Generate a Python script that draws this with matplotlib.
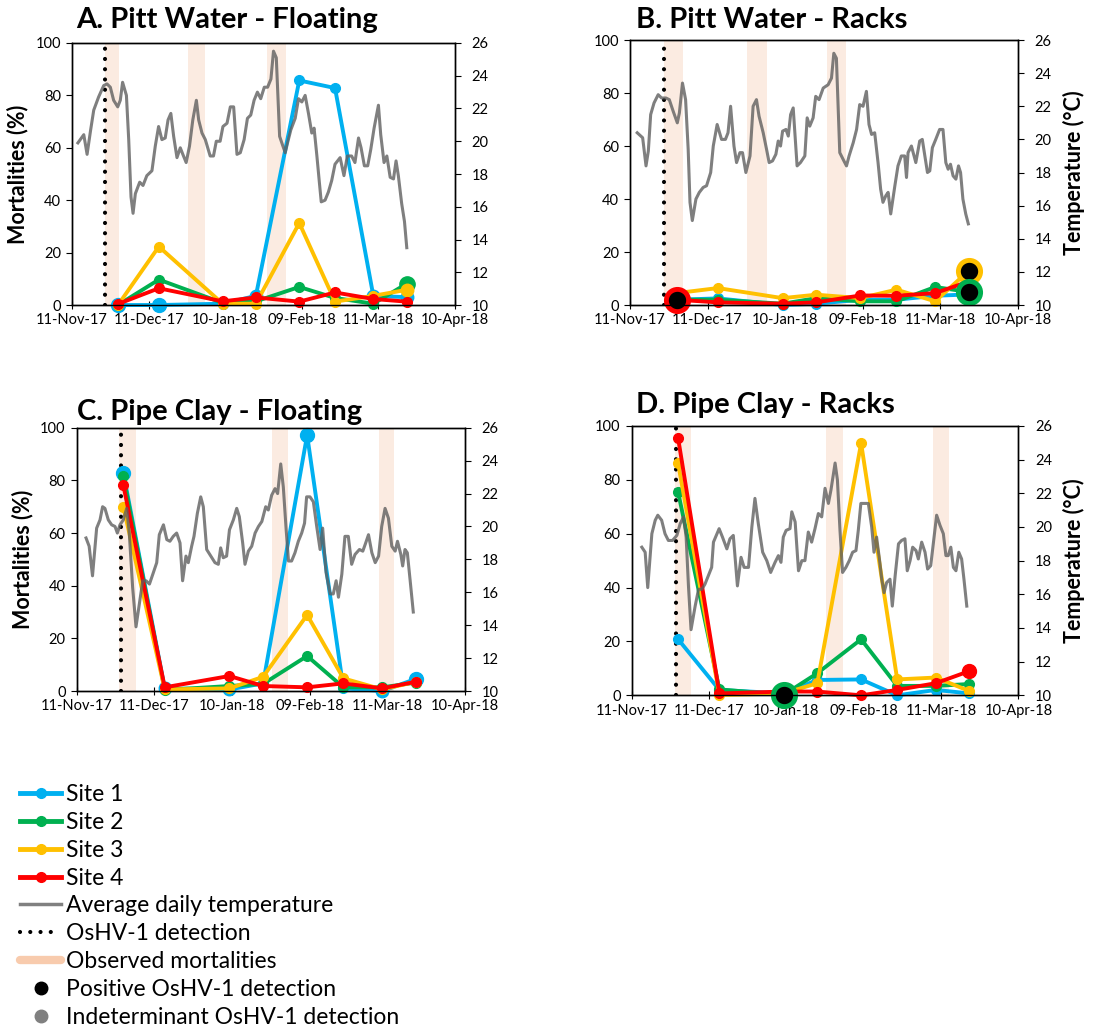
import numpy as np
import matplotlib.pyplot as plt
import matplotlib.dates as mdates
from matplotlib.lines import Line2D

plt.rcParams['font.family'] = ['Lato', 'DejaVu Sans']

START = np.datetime64('2017-11-11')

# sampling dates shared by all four deployments
sample_dates = ['2017-11-29', '2017-12-15', '2018-01-09', '2018-01-22',
                '2018-02-08', '2018-02-22', '2018-03-09', '2018-03-22']

# mortalities (%) per site
a_site1 = [0, 0, 0.5, 3.5, 85.7, 82.8, 3.5, 3]
a_site2 = [0, 9.7, 0.8, 1.4, 6.9, 2.7, 0.5, 8.1]
a_site3 = [0, 22.3, 0.5, 0.5, 31.3, 1.3, 3.5, 5.8]
a_site4 = [0.4, 6.4, 1.4, 2.9, 1.3, 4.8, 2.3, 1.3]

b_site1 = [2, 2.5, 0, 0.5, 2, 2, 3.5, 4]
b_site2 = [2, 2, 0.5, 2.6, 1.4, 1.4, 6.8, 4.9]
b_site3 = [4.5, 6.4, 2.6, 3.9, 2.6, 5.8, 1.4, 13]
b_site4 = [2, 1, 0.5, 1, 3.6, 3.5, 4.5, 8.9]

c_site1 = [82.9, 1, 0.6, 2.9, 97.2, 1, 0, 4.6]
c_site2 = [81.6, 0.4, 1.9, 2.7, 13.3, 1.4, 1.4, 3.2]
c_site3 = [70, 0.6, 1, 5.4, 28.9, 4.8, 0.6, 3.5]
c_site4 = [78.2, 1.4, 5.7, 1.9, 1.4, 2.9, 1, 3.5]

d_site1 = [20.8, 2, 0.7, 5.7, 5.9, 0, 2, 0.7]
d_site2 = [75.4, 2.2, 0.2, 8.2, 20.8, 3.5, 3.5, 4.2]
d_site3 = [86.1, 0.1, 0.7, 4.5, 93.6, 5.9, 6.6, 1.6]
d_site4 = [95.4, 0.7, 1.4, 1.4, 0, 2, 4.5, 9.0]

# first OsHV-1 detection
detect_a = '2017-11-24'
detect_b = '2017-11-24'
detect_c = '2017-11-28'
detect_d = '2017-11-28'

# periods of observed mortalities (days after 11-Nov-17)
bands_a = [(12.8, 18.5), (45.4, 52.2), (76.3, 83.7)]
bands_b = [(13.1, 20.6), (45.1, 53.0), (76.3, 83.4)]
bands_c = [(16.4, 22.9), (75.3, 81.8), (116.8, 122.7)]
bands_d = [(16.8, 23.0), (75.3, 82.1), (117.0, 123.1)]

# positive OsHV-1 detections: (site, sampling index)
positive_b = [(4, 0), (3, 7), (2, 7)]
positive_d = [(2, 2)]

# average daily temperature (days after 11-Nov-17, degC)
temp_a_day = [2.3, 4.6, 5.9, 7.2, 8.5, 10.4, 12.4, 13.7, 15.0, 16.3, 17.9, 18.9, 19.8, 21.3, 22.2,
              23.1, 23.9, 24.8, 26.5, 27.8, 29.3, 31.3, 32.6, 33.9, 35.2, 36.5, 37.6, 38.7, 39.8,
              41.1, 42.4, 43.4, 44.7, 46.0, 47.3, 48.7, 49.6, 50.9, 52.2, 54.1, 55.4, 56.5, 58.0,
              59.1, 60.7, 62.0, 63.3, 64.6, 65.9, 67.4, 68.7, 70.0, 71.3, 72.6, 73.9, 75.3, 76.6,
              77.9, 78.9, 80.0, 81.3, 82.6, 83.5, 84.4, 85.7, 87.4, 88.7, 90.0, 91.3, 92.6, 93.9,
              94.8, 95.9, 96.8, 97.6, 99.1, 100.4, 101.7, 103.0, 105.0, 106.5, 107.8, 109.5, 110.8,
              112.2, 113.2, 114.5, 115.8, 117.0, 118.3, 120.0, 120.9, 122.2, 123.3, 124.6, 125.9,
              126.9, 127.8, 129.1, 130.2, 131.1]
temp_a = [19.9, 20.4, 19.2, 20.6, 21.9, 22.7, 23.4, 23.5, 23.3, 22.5, 22.1, 22.5, 23.6, 22.8, 20.1,
          16.6, 15.6, 16.8, 17.5, 17.3, 17.9, 18.2, 19.7, 20.9, 20.1, 20.2, 21.3, 21.7, 20.3,
          19.0, 19.6, 19.2, 18.7, 19.7, 21.3, 22.5, 21.3, 20.5, 20.1, 19.1, 19.1, 20.0, 20.0,
          20.9, 21.1, 22.1, 22.1, 19.2, 19.3, 20.1, 21.4, 21.6, 22.5, 23.0, 22.6, 23.3, 23.3,
          23.8, 25.5, 25.1, 20.3, 19.7, 19.3, 19.9, 20.7, 21.4, 22.6, 22.4, 22.8, 21.7, 20.5,
          20.8, 19.1, 17.6, 16.3, 16.4, 16.9, 17.6, 18.6, 19.0, 17.9, 19.1, 19.1, 18.7,
          20.2, 19.6, 18.5, 18.5, 19.5, 20.8, 22.2, 20.4, 18.7, 19.1, 17.8, 17.7,
          18.8, 17.9, 16.2, 15.1, 13.5]

temp_b_day = [2.8, 4.9, 6.2, 7.1, 8.0, 9.3, 10.9, 12.2, 13.9, 15.2, 16.7, 18.3, 19.1, 20.3, 21.5,
              22.5, 23.2, 24.1, 25.5, 26.8, 28.3, 29.6, 31.2, 32.2, 33.7, 35.4, 36.9, 37.9, 38.9,
              40.2, 41.2, 42.5, 43.5, 44.8, 46.4, 47.6, 48.9, 49.9, 51.5, 52.8, 53.8, 55.1, 56.4,
              57.3, 58.2, 59.0, 60.3, 61.2, 62.1, 63.1, 64.6, 65.9, 67.6, 68.5, 69.5, 70.8, 71.8,
              73.1, 74.7, 76.6, 77.9, 78.8, 79.8, 81.1, 82.7, 83.7, 84.7, 86.3, 87.6, 88.8, 90.1,
              91.4, 92.4, 93.4, 94.6, 95.9, 96.9, 97.8, 98.9, 99.8, 100.8, 102.4, 103.6, 104.9,
              106.2, 106.9, 107.5, 108.8, 110.5, 112.0, 113.0, 114.0, 115.0, 115.9, 116.9, 118.2,
              119.7, 121.0, 122.1, 123.0, 123.9, 124.9, 126.0, 127.0, 127.8, 128.7, 129.8, 130.8]
temp_b = [20.4, 20.1, 18.4, 19.3, 21.5, 22.2, 22.7, 22.5, 22.5, 22.4, 21.7, 21.0, 21.6, 23.4, 22.4,
          19.4, 16.2, 15.1, 16.4, 16.8, 17.1, 17.2, 18.0, 19.6, 20.9, 20.0, 20.0, 20.4, 22.0,
          19.6, 18.6, 19.2, 19.2, 18.0, 19.0, 22.0, 22.4, 21.4, 20.4, 19.4, 18.6, 18.7, 19.1,
          19.9, 19.6, 20.5, 20.6, 20.2, 21.5, 21.9, 18.4, 18.6, 19.0, 21.3, 20.8, 21.3, 22.6,
          22.4, 23.1, 23.3, 23.7, 25.2, 24.9, 19.2, 18.7, 18.4, 19.0, 19.8, 20.6, 22.1, 22.0,
          22.9, 20.9, 20.3, 20.4, 18.6, 17.0, 16.2, 16.6, 16.8, 15.5, 17.2, 18.4, 19.0,
          19.0, 17.7, 19.2, 19.6, 18.6, 19.9, 20.0, 19.0, 18.0, 18.1, 19.5, 20.0,
          20.6, 20.6, 18.6, 18.2, 18.5, 17.8, 17.6, 18.4, 18.0, 16.4, 15.5, 14.9]

temp_c_day = [3.6, 4.8, 6.1, 7.7, 9.0, 10.0, 10.9, 12.2, 13.5, 14.8, 15.7, 16.7, 18.0, 19.3, 20.3,
              21.6, 22.9, 24.2, 25.5, 26.8, 28.1, 29.4, 30.9, 31.9, 33.5, 34.8, 36.0, 37.3, 38.6,
              39.9, 40.9, 42.2, 43.1, 44.4, 45.3, 46.6, 47.9, 48.9, 50.2, 51.8, 53.4, 54.7, 55.6,
              56.6, 57.9, 59.0, 60.5, 61.8, 62.8, 64.1, 65.0, 66.3, 67.6, 68.9, 70.2, 71.5, 73.0,
              74.0, 75.3, 76.6, 77.6, 78.8, 79.8, 80.9, 81.8, 83.0, 84.3, 85.6, 86.9, 88.0, 88.8,
              90.1, 91.4, 92.7, 94.0, 95.0, 96.3, 97.9, 99.1, 100.2, 101.1, 102.4, 103.6, 104.9,
              106.2, 107.5, 109.2, 110.5, 111.4, 112.7, 114.0, 115.3, 116.6, 117.8, 119.1, 120.4,
              121.7, 123.0, 123.9, 125.2, 125.9, 126.8, 127.7, 128.8, 130.0]
temp_c = [19.3, 18.8, 17.0, 19.9, 20.4, 21.2, 21.1, 20.4, 20.1, 20.0, 19.6, 20.1, 20.4, 21.1, 19.6,
          16.3, 13.9, 15.3, 16.7, 16.7, 16.5, 17.1, 17.8, 19.5, 20.1, 19.2, 19.1, 19.4, 19.6,
          19.0, 16.7, 18.2, 17.8, 18.8, 19.4, 20.8, 21.8, 21.2, 18.6, 18.2, 17.8, 17.7, 18.7,
          18.1, 18.2, 19.8, 20.4, 21.1, 20.6, 19.0, 17.7, 18.5, 18.8, 19.6, 20.0, 20.3, 21.2,
          21.0, 21.9, 22.3, 22.0, 23.8, 22.4, 19.8, 17.9, 17.9, 18.4, 19.1, 19.6, 20.2, 21.8,
          21.8, 21.5, 20.0, 18.6, 19.9, 17.2, 15.9, 15.9, 16.7, 15.7, 17.1, 19.4, 19.4,
          17.7, 18.3, 18.6, 18.5, 18.9, 19.5, 18.4, 17.8, 18.2, 20.0, 21.1, 20.5,
          18.8, 18.5, 19.1, 18.3, 17.6, 18.6, 18.4, 16.7, 14.8]

temp_d_day = [3.9, 5.2, 6.2, 7.8, 9.1, 10.1, 11.6, 12.9, 14.2, 15.8, 17.5, 18.8, 20.1, 21.1, 22.0,
              23.0, 24.6, 25.9, 27.2, 28.4, 29.7, 31.0, 31.7, 33.9, 35.2, 36.9, 38.1, 39.4, 41.0,
              42.4, 43.6, 45.3, 46.6, 47.8, 49.1, 50.8, 52.4, 53.9, 55.6, 56.9, 57.9, 58.8, 59.9,
              61.4, 62.1, 63.4, 64.7, 66.0, 67.2, 68.5, 69.8, 71.1, 72.4, 73.7, 75.0, 76.3, 77.3,
              78.9, 79.8, 80.8, 81.8, 83.1, 84.4, 85.7, 87.0, 87.9, 88.9, 90.5, 91.8, 93.1, 94.0,
              95.0, 96.1, 97.0, 97.9, 98.9, 100.2, 101.1, 102.2, 103.5, 104.7, 106.0, 106.9, 108.0,
              109.0, 110.3, 111.2, 112.5, 113.8, 114.8, 116.0, 117.0, 118.3, 119.6, 120.9, 121.9,
              122.8, 123.8, 124.8, 125.8, 126.9, 128.0, 128.9, 130.0]
temp_d = [18.8, 18.5, 16.4, 19.6, 20.4, 20.7, 20.4, 19.6, 19.2, 19.2, 19.5, 20.2, 20.6, 19.4, 16.5,
          13.9, 15.3, 16.3, 16.3, 16.6, 17.1, 17.6, 19.1, 19.9, 19.4, 18.7, 19.3, 19.5, 16.5,
          18.2, 17.6, 17.6, 20.0, 21.7, 20.2, 18.5, 18.0, 17.3, 17.9, 18.3, 17.9, 19.4, 19.8,
          19.9, 20.9, 20.3, 17.4, 18.0, 18.0, 19.7, 19.1, 19.9, 20.8, 20.6, 22.3, 21.4, 22.2,
          23.8, 22.8, 19.8, 17.3, 17.6, 18.0, 18.5, 18.6, 19.8, 21.4, 21.4, 21.4, 20.0, 18.5,
          19.4, 18.1, 16.9, 16.1, 16.7, 16.9, 15.3, 17.1, 19.0, 19.2, 19.3, 17.4, 18.0,
          18.8, 18.6, 18.1, 19.1, 18.5, 17.5, 17.7, 19.0, 20.7, 20.1, 19.6, 18.3,
          18.3, 18.8, 17.6, 17.4, 18.5, 18.1, 16.9, 15.3]

titles = ['A. Pitt Water - Floating', 'B. Pitt Water - Racks',
          'C. Pipe Clay - Floating', 'D. Pipe Clay - Racks']

site_colors = ['#00B0F0', '#00B050', '#FFC000', '#FF0000']
temp_color = '#5f5f5f'
band_color = '#FBEBE1'
dots = (0, (0.01, 2.45))

# larger markers on some points: (site, index) -> markersize
big_a = {(1, 0): 10, (1, 1): 10, (1, 3): 9, (1, 6): 9, (1, 7): 9, (3, 7): 9, (2, 7): 11}
big_b = {}
big_c = {(1, 0): 10, (1, 4): 10, (1, 7): 10, (1, 1): 9, (1, 2): 9, (1, 6): 9}
big_d = {(4, 7): 10}

panels = [
    dict(sites=[a_site1, a_site2, a_site3, a_site4], temp_day=temp_a_day, temp=temp_a,
         detect=detect_a, bands=bands_a, positive=[], big=big_a,
         rect=[0.0646, 0.7027, 0.3435, 0.2554], left_label=True),
    dict(sites=[b_site1, b_site2, b_site3, b_site4], temp_day=temp_b_day, temp=temp_b,
         detect=detect_b, bands=bands_b, positive=positive_b, big=big_b,
         rect=[0.5650, 0.7027, 0.3480, 0.2583], left_label=False),
    dict(sites=[c_site1, c_site2, c_site3, c_site4], temp_day=temp_c_day, temp=temp_c,
         detect=detect_c, bands=bands_c, positive=[], big=big_c,
         rect=[0.0688, 0.3265, 0.3483, 0.2566], left_label=True),
    dict(sites=[d_site1, d_site2, d_site3, d_site4], temp_day=temp_d_day, temp=temp_d,
         detect=detect_d, bands=bands_d, positive=positive_d, big=big_d,
         rect=[0.5666, 0.3223, 0.3467, 0.2625], left_label=False),
]
title_pos = [(76, 20), (636, 20), (77, 412), (636, 405)]

t0 = mdates.date2num(START)
xs = mdates.date2num(np.array(sample_dates, dtype='datetime64[D]'))

fig = plt.figure(figsize=(11.15, 10.26), dpi=100)

for p, title, (tx, ty) in zip(panels, titles, title_pos):
    ax = fig.add_axes(p['rect'])
    for b0, b1 in p['bands']:
        ax.axvspan(t0 + b0, t0 + b1, color=band_color, lw=0, zorder=0)
    xd = mdates.date2num(np.datetime64(p['detect']))
    ax.plot([xd, xd], [0, 100], color='black', ls=dots, lw=3,
            dash_capstyle='round', zorder=1)

    order = [0, 2, 1, 3]
    for i in order:
        vals = p['sites'][i]
        ax.plot(xs, vals, color=site_colors[i], lw=2.8, marker='o', ms=7,
                zorder=3 + i * 0.1, clip_on=False)
        for (s, k), ms in p['big'].items():
            if s == i + 1:
                ax.plot(xs[k], vals[k], 'o', color=site_colors[i], ms=ms,
                        zorder=3.05 + i * 0.1, clip_on=False)
    for s, k in p['positive']:
        ax.plot(xs[k], p['sites'][s - 1][k], 'o', mfc='black', mec=site_colors[s - 1],
                mew=3.5, ms=16, zorder=4, clip_on=False)

    ax.set_ylim(0, 100)
    ax.set_yticks(np.arange(0, 101, 20))
    ax.set_xlim(t0, t0 + 150)
    ax.set_xticks(t0 + np.arange(0, 151, 30))
    ax.xaxis.set_major_formatter(mdates.DateFormatter('%d-%b-%y'))
    ax.tick_params(axis='x', direction='inout', length=6, labelsize=10.5, pad=3)
    ax.tick_params(axis='y', direction='out', length=4, labelsize=10.5, pad=4)
    if p['left_label']:
        ax.set_ylabel('Mortalities (%)', fontsize=15.5, fontweight='bold', labelpad=5)

    # temperature on the secondary axis, drawn over the mortality lines
    ax2 = ax.twinx()
    ax2.plot(t0 + np.array(p['temp_day']), p['temp'], color=temp_color, lw=2.2, alpha=0.8)
    ax2.set_ylim(10, 26)
    ax2.set_yticks(np.arange(10, 27, 2))
    ax2.tick_params(axis='y', direction='out', length=4, labelsize=10.5, pad=8)
    if not p['left_label']:
        ax2.set_ylabel('Temperature (°C)', fontsize=15.5, fontweight='bold', labelpad=8)
    for a in (ax, ax2):
        for sp in a.spines.values():
            sp.set_color('black')
            sp.set_linewidth(1)

    fig.text(tx / 1115, 1 - ty / 1026, title, fontsize=21, fontweight='bold',
             ha='left', va='center')

handles = [
    Line2D([], [], color=site_colors[0], lw=3.5, marker='o', ms=7),
    Line2D([], [], color=site_colors[1], lw=3.5, marker='o', ms=7),
    Line2D([], [], color=site_colors[2], lw=3.5, marker='o', ms=7),
    Line2D([], [], color=site_colors[3], lw=3.5, marker='o', ms=7),
    Line2D([], [], color='#808080', lw=2.5),
    Line2D([], [], color='black', lw=3, ls=dots, dash_capstyle='round'),
    Line2D([], [], color='#F8CBAD', lw=6, solid_capstyle='round'),
    Line2D([], [], color='black', ls='none', marker='o', ms=9),
    Line2D([], [], color='#808080', ls='none', marker='o', ms=9),
]
labels = ['Site 1', 'Site 2', 'Site 3', 'Site 4', 'Average daily temperature',
          'OsHV-1 detection', 'Observed mortalities', 'Positive OsHV-1 detection',
          'Indeterminant OsHV-1 detection']
fig.legend(handles, labels, loc='upper left', bbox_to_anchor=(20 / 1115, 1 - 784 / 1026),
           frameon=False, fontsize=16.5, handlelength=1.8, handletextpad=0.2,
           labelspacing=0.3, borderaxespad=0, borderpad=0)

fig.savefig('out.png', dpi=100)
